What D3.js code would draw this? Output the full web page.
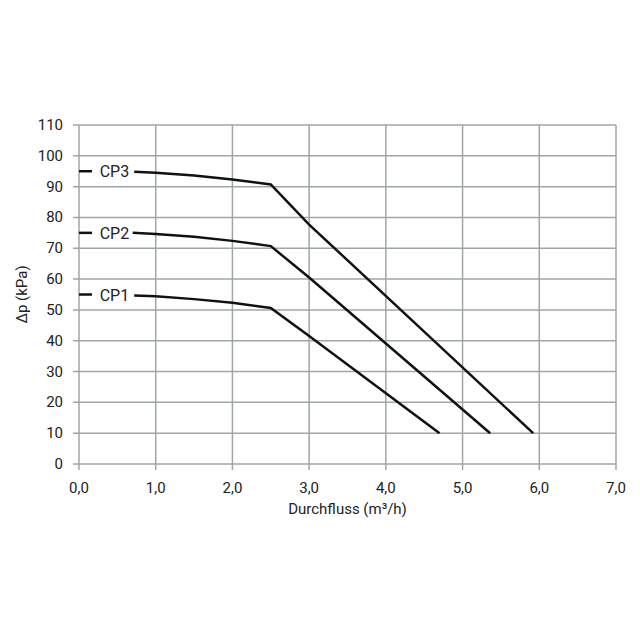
<!DOCTYPE html>
<html>
<head>
<meta charset="utf-8">
<script src="https://cdn.jsdelivr.net/npm/d3@7"></script>
<style>
  body { margin: 0; background: #fff; }
  text { font-family: "Roboto", "DejaVu Sans", sans-serif; fill: #222; }
</style>
</head>
<body>
<svg class="chart"></svg>
<script>
// curve data (flow m3/h, pressure kPa)
var names = ["CP1", "CP2", "CP3"];
var startLevel = [55, 75, 95];
var cp1 = [[0.72, 54.7], [1.0, 54.4], [1.5, 53.5], [2.0, 52.3], [2.5, 50.6], [3.0, 41.5], [4.7, 10]];
var cp2 = [[0.70, 75.0], [1.0, 74.6], [1.5, 73.7], [2.0, 72.4], [2.5, 70.7], [3.0, 60.5], [5.36, 10]];
var cp3 = [[0.72, 94.8], [1.0, 94.5], [1.5, 93.6], [2.0, 92.3], [2.5, 90.7], [3.0, 77.7], [5.92, 10]];
var xTicks = [0, 1, 2, 3, 4, 5, 6, 7];
var yTicks = [0, 10, 20, 30, 40, 50, 60, 70, 80, 90, 100, 110];

var width = 640, height = 640;
var plotLeft = 79, plotRight = 616, plotTop = 125, plotBottom = 464;

var svg = d3.select(".chart").attr("width", width).attr("height", height);

var x = d3.scaleLinear().domain([0, 7]).range([plotLeft, plotRight]);
var y = d3.scaleLinear().domain([0, 110]).range([plotBottom, plotTop]);

var grid = "#9ea6aa";

// horizontal grid + y ticks
svg.selectAll(".hgrid").data(yTicks).enter()
  .append("line")
  .attr("x1", plotLeft - 6).attr("x2", plotRight)
  .attr("y1", function(d){ return y(d); })
  .attr("y2", function(d){ return y(d); })
  .attr("stroke", grid).attr("stroke-width", 1.5);

// vertical grid + x ticks
svg.selectAll(".vgrid").data(xTicks).enter()
  .append("line")
  .attr("x1", function(d){ return x(d); })
  .attr("x2", function(d){ return x(d); })
  .attr("y1", plotTop).attr("y2", plotBottom + 6)
  .attr("stroke", grid).attr("stroke-width", 1.5);

svg.selectAll(".ylab").data(yTicks).enter()
  .append("text")
  .attr("x", plotLeft - 16)
  .attr("y", function(d){ return y(d) + 5; })
  .attr("text-anchor", "end")
  .attr("font-size", "15px")
  .text(function(d){ return d; });

svg.selectAll(".xlab").data(xTicks).enter()
  .append("text")
  .attr("x", function(d){ return x(d); })
  .attr("y", plotBottom + 29)
  .attr("text-anchor", "middle")
  .attr("font-size", "15px")
  .text(function(d){ return d.toFixed(1).replace(".", ","); });

svg.append("text")
  .attr("x", (plotLeft + plotRight) / 2)
  .attr("y", plotBottom + 50)
  .attr("text-anchor", "middle")
  .attr("font-size", "15px")
  .text("Durchfluss (m³/h)");

svg.append("text")
  .attr("transform", "translate(27," + ((plotTop + plotBottom) / 2) + ") rotate(-90)")
  .attr("text-anchor", "middle")
  .attr("font-size", "15px")
  .text("Δp (kPa)");

// curves
var line = d3.line()
  .x(function(d){ return x(d[0]); })
  .y(function(d){ return y(d[1]); });

svg.selectAll(".curve").data([cp1, cp2, cp3]).enter()
  .append("path")
  .attr("d", line)
  .attr("fill", "none")
  .attr("stroke", "#111")
  .attr("stroke-width", 2.5)
  .attr("stroke-linejoin", "miter");

// labels with dash
svg.selectAll(".dash").data(startLevel).enter()
  .append("line")
  .attr("x1", x(0)).attr("x2", x(0.17))
  .attr("y1", function(d){ return y(d); })
  .attr("y2", function(d){ return y(d); })
  .attr("stroke", "#111").attr("stroke-width", 2.5);

svg.selectAll(".cplab").data(names).enter()
  .append("text")
  .attr("x", x(0.27))
  .attr("y", function(d, i){ return y(startLevel[i]) + 6; })
  .attr("font-size", "16px")
  .text(function(d){ return d; });
</script>
</body>
</html>
